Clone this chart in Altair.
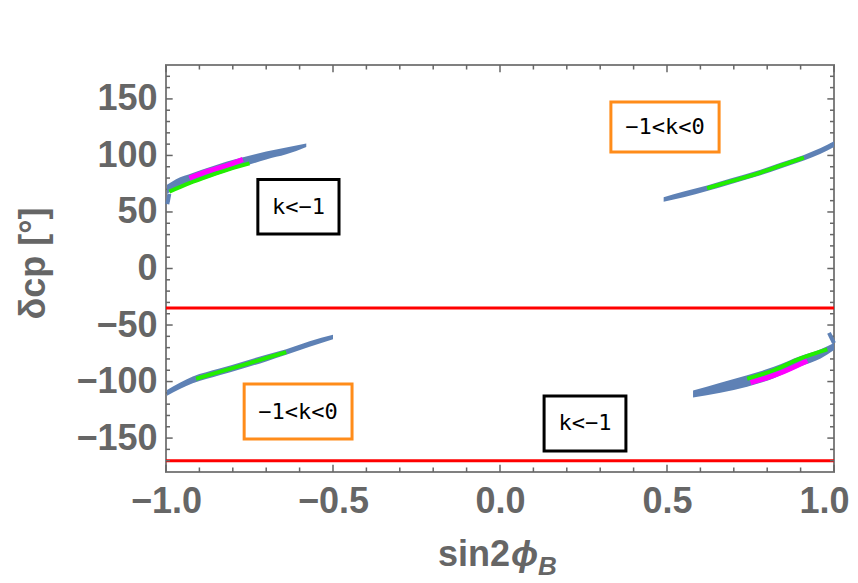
import altair as alt
import pandas as pd

# ---------------- data ----------------
# blue scatter bands: x, centre of band, half thickness (degrees)
UL_X = [-0.997, -0.97, -0.92, -0.87, -0.82, -0.76, -0.70, -0.64, -0.58]
UL_C = [70, 75, 80, 85, 90, 95, 100, 104, 109]
UL_H = [4, 4, 4.5, 4.5, 4.5, 4, 3.5, 3, 1.5]

UR_X = [0.49, 0.55, 0.62, 0.69, 0.77, 0.84, 0.91, 0.96, 1.0]
UR_C = [61, 65.5, 71, 77, 84, 91, 98, 104, 110]
UR_H = [2, 2.5, 2.5, 2.5, 2.5, 2.5, 2.5, 2.5, 2.5]

LL_X = [-0.997, -0.92, -0.84, -0.77, -0.70, -0.64, -0.57, -0.50]
LL_C = [-110, -98.6, -91.5, -85.4, -79.2, -73.9, -66.8, -60.6]
LL_H = [2.5, 3, 3, 3, 3, 2.5, 2.5, 2]

LR_X = [0.578, 0.66, 0.74, 0.82, 0.90, 0.96, 1.0]
LR_C = [-111, -105.5, -99.5, -92, -82, -75.5, -69]
LR_H = [3, 4.5, 5, 5, 4.5, 4, 3]

# short blue hooks at the frame edge
HOOK_ID = ["a", "a", "b", "b"]
HOOK_X = [-0.996, -0.99, 0.985, 1.0]
HOOK_Y = [57, 66, -57, -66]

# green sub-bands
GR_ID = ["ul"] * 5 + ["ur"] * 5 + ["ll"] * 5 + ["lr"] * 4
GR_X = [-0.99, -0.93, -0.87, -0.81, -0.75,
        0.62, 0.69, 0.77, 0.84, 0.91,
        -0.91, -0.84, -0.77, -0.70, -0.64,
        0.74, 0.82, 0.90, 0.98]
GR_Y = [68, 75.5, 82, 88, 93,
        71, 77, 84, 91, 98,
        -97.5, -91.5, -85.4, -79.2, -73.9,
        -97.5, -90, -79.5, -71.5]

# magenta sub-bands
MG_ID = ["ul"] * 4 + ["lr"] * 3
MG_X = [-0.93, -0.87, -0.81, -0.77, 0.75, 0.83, 0.92]
MG_Y = [80, 86.5, 92, 96.5, -101, -93.5, -81.5]

# horizontal red limits
RED_Y = [-35, -170]

# annotation boxes
BOX_TEXT = ["k<\u22121", "\u22121<k<0", "\u22121<k<0", "k<\u22121"]
BOX_X1 = [-0.725, 0.332, -0.766, 0.132]
BOX_X2 = [-0.482, 0.656, -0.443, 0.377]
BOX_Y1 = [78.7, 147.3, -102.2, -112.8]
BOX_Y2 = [30.5, 103.0, -150.8, -161.4]
BOX_COLOR = ["black", "orange", "orange", "black"]

# ticks
X_MAJOR = [-1.0, -0.5, 0.0, 0.5, 1.0]
X_MINOR = [-0.9, -0.8, -0.7, -0.6, -0.4, -0.3, -0.2, -0.1,
           0.1, 0.2, 0.3, 0.4, 0.6, 0.7, 0.8, 0.9]
Y_MAJOR = [-150, -100, -50, 0, 50, 100, 150]
Y_MINOR = [v for v in range(-170, 180, 10) if v % 50 != 0]

XD = [-1, 1]
YD = [-180, 180]

# ---------------- build tables ----------------
bands = []
for name, xs_, cs, hs in [("ul", UL_X, UL_C, UL_H), ("ur", UR_X, UR_C, UR_H),
                          ("ll", LL_X, LL_C, LL_H), ("lr", LR_X, LR_C, LR_H)]:
    for x, c, h in zip(xs_, cs, hs):
        bands.append({"band": name, "bx": float(x), "lo": float(c - h),
                      "hi": float(c + h)})
bands = pd.DataFrame(bands)

hooks = pd.DataFrame({"id": HOOK_ID, "x": HOOK_X, "y": HOOK_Y})
green = pd.DataFrame({"id": GR_ID, "x": GR_X, "y": GR_Y})
magenta = pd.DataFrame({"id": MG_ID, "x": MG_X, "y": MG_Y})
red = pd.DataFrame({"y": RED_Y, "x": [XD[0]] * 2, "x2": [XD[1]] * 2})
boxes = pd.DataFrame({"t": BOX_TEXT, "x1": BOX_X1, "x2": BOX_X2,
                      "y1": BOX_Y1, "y2": BOX_Y2, "c": BOX_COLOR})
boxes["xm"] = (boxes.x1 + boxes.x2) / 2
boxes["ym"] = (boxes.y1 + boxes.y2) / 2

LX_MAJ, LX_MIN = 0.02, 0.012    # tick lengths in x units
LY_MAJ, LY_MIN = 6.5, 4.0       # tick lengths in y units
vt = []   # vertical ticks on bottom/top
for v in X_MAJOR + X_MINOR:
    L = LY_MAJ if v in X_MAJOR else LY_MIN
    vt.append({"tx": float(v), "ty": float(YD[0]), "ty2": float(YD[0] + L)})
    vt.append({"tx": float(v), "ty": float(YD[1] - L), "ty2": float(YD[1])})
vt = pd.DataFrame(vt)
ht = []   # horizontal ticks on left/right
for v in Y_MAJOR + Y_MINOR:
    L = LX_MAJ if v in Y_MAJOR else LX_MIN
    ht.append({"tx": float(XD[0]), "tx2": float(XD[0] + L), "ty": float(v)})
    ht.append({"tx": float(XD[1] - L), "tx2": float(XD[1]), "ty": float(v)})
ht = pd.DataFrame(ht)

FONT = "Liberation Sans"
GRAY = "#666666"

xs = alt.Scale(domain=XD, nice=False, zero=False)
ys = alt.Scale(domain=YD, nice=False, zero=False)

xaxis = alt.Axis(values=X_MAJOR, format=".1f", title=None, grid=False,
                 domain=False, ticks=False, labelFont=FONT,
                 labelFontWeight="bold", labelFontSize=36,
                 labelColor=GRAY, labelPadding=12, labelFlush=False,
                 labelOffset=alt.expr("datum.value == 1 ? -10 : 0"))
yaxis = alt.Axis(values=Y_MAJOR, format="d", title="\u03b4cp [\u00b0]",
                 grid=False, domain=False, ticks=False, labelFont=FONT,
                 labelFontWeight="bold", labelFontSize=36,
                 labelColor=GRAY, labelPadding=9, labelFlush=False,
                 titleFont=FONT, titleFontWeight="bold", titleFontSize=36,
                 titleColor=GRAY, titleX=-133, titleY=198, titleAngle=-90,
                 titleAlign="center", titleBaseline="middle")

red_layer = alt.Chart(red).mark_rule(color="#FF0000", strokeWidth=3).encode(
    x=alt.X("x:Q", scale=xs, axis=xaxis), x2="x2:Q",
    y=alt.Y("y:Q", scale=ys, axis=yaxis))

vtick_layer = alt.Chart(vt).mark_rule(color="#666666", strokeWidth=1.5).encode(
    x=alt.X("tx:Q", scale=xs), y=alt.Y("ty:Q", scale=ys), y2="ty2:Q")

htick_layer = alt.Chart(ht).mark_rule(color="#666666", strokeWidth=1.5).encode(
    x=alt.X("tx:Q", scale=xs), x2="tx2:Q", y=alt.Y("ty:Q", scale=ys))

band_layer = alt.Chart(bands).mark_area(color="#5E81B5", orient="vertical",
                                        interpolate="monotone").encode(
    x=alt.X("bx:Q", scale=xs), y=alt.Y("lo:Q", scale=ys), y2="hi:Q",
    detail="band:N")

hook_layer = alt.Chart(hooks).mark_line(color="#5E81B5", strokeWidth=4).encode(
    x=alt.X("x:Q", scale=xs), y=alt.Y("y:Q", scale=ys), detail="id:N")

green_layer = alt.Chart(green).mark_line(color="#22EE00", strokeWidth=4,
                                         interpolate="monotone").encode(
    x=alt.X("x:Q", scale=xs), y=alt.Y("y:Q", scale=ys), detail="id:N")

mag_layer = alt.Chart(magenta).mark_line(color="#FF00FF", strokeWidth=5,
                                         interpolate="monotone").encode(
    x=alt.X("x:Q", scale=xs), y=alt.Y("y:Q", scale=ys), detail="id:N")

box_layer = alt.Chart(boxes).mark_rect(fill="white", strokeWidth=3).encode(
    x=alt.X("x1:Q", scale=xs), x2="x2:Q",
    y=alt.Y("y1:Q", scale=ys), y2="y2:Q",
    stroke=alt.Stroke("c:N", scale=alt.Scale(domain=["black", "orange"],
                                             range=["#000000", "#FF8C1A"]),
                      legend=None))

box_text = alt.Chart(boxes).mark_text(font="DejaVu Sans Mono", fontSize=22,
                                      color="black", baseline="middle",
                                      align="center").encode(
    x=alt.X("xm:Q", scale=xs), y=alt.Y("ym:Q", scale=ys), text="t:N")

one = pd.DataFrame({"k": [0]})
t_sin = alt.Chart(one).mark_text(text="sin2", font=FONT, fontWeight="bold",
                                 fontSize=36, color=GRAY, align="right",
                                 baseline="alphabetic").encode(
    x=alt.value(344), y=alt.value(501))
t_phi = alt.Chart(one).mark_text(text="\u03d5", font=FONT, fontWeight="bold",
                                 fontStyle="italic", fontSize=36, color=GRAY,
                                 align="left", baseline="alphabetic").encode(
    x=alt.value(345), y=alt.value(501))
t_b = alt.Chart(one).mark_text(text="B", font=FONT, fontWeight="bold",
                               fontStyle="italic", fontSize=26, color=GRAY,
                               align="left", baseline="alphabetic").encode(
    x=alt.value(372), y=alt.value(510))

chart = alt.layer(
    red_layer, vtick_layer, htick_layer, band_layer, hook_layer,
    green_layer, mag_layer, box_layer, box_text, t_sin, t_phi, t_b
).properties(
    width=668, height=407,
    autosize=alt.AutoSizeParams(type="none"),
    padding={"left": 158, "top": 57, "right": 16, "bottom": 111},
    background="white",
).configure_view(stroke="#808080", strokeWidth=2)

chart.save("out.html", embed_options={"renderer": "svg", "actions": False})
